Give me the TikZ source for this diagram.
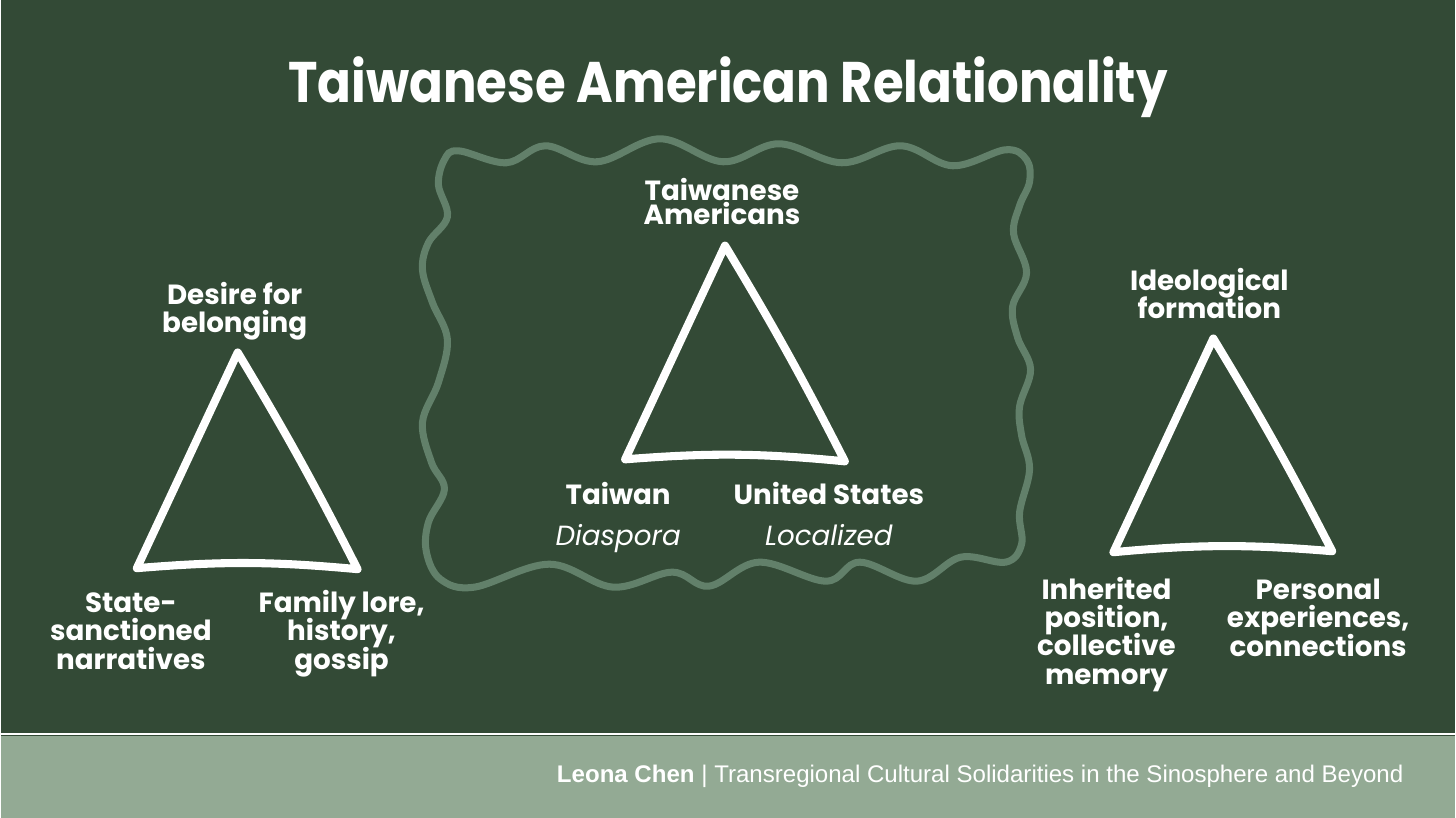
\documentclass[tikz,border=0pt]{standalone}
\usepackage{fontspec}
\usepackage{graphicx}
\setmainfont{Poppins}
\newfontfamily\footfont{Liberation Sans}
\usetikzlibrary{positioning}
\definecolor{slate}{HTML}{334A36}
\definecolor{sage}{HTML}{93AA94}
\definecolor{wavy}{HTML}{62806A}
\newcommand\tightlines{\lineskiplimit=-10pt\relax}
\tikzset{
  sketch/.style={
    line width = 2.3pt,
    draw = white,
    line cap = round,
    line join = round
  },
  corner/.style={
    text = white,
    font = \bfseries\fontsize{7.9}{8}\selectfont\tightlines,
    align = center,
    inner sep = 0pt,
    anchor = base
  },
  leaning/.style={
    text = white,
    font = \itshape\fontsize{7.9}{8}\selectfont,
    inner sep = 0pt,
    anchor = base
  },
}
\begin{document}
\begin{tikzpicture}[x=0.01cm, y=-0.01cm]
    % background and footer band
    \fill[slate] (0,0) rectangle (1456,819);
    \fill[sage] (0,737) rectangle (1456,819);
    \draw[white, line width=0.6pt] (0,735) -- (1456,735);
    \node[text=white, font=\bfseries\fontsize{16.3}{18}\selectfont, inner sep=0pt, anchor=base] (title) at (728,103) {\scalebox{0.87}[1]{Taiwanese American Relationality}};
    % wavy frame round the middle triangle
    \draw[wavy, line width=2pt] plot[smooth cycle, tension=0.6] coordinates {
      (458,151) (506,163) (545,146) (597,162) (660,139) (723,162) (779,144) (842,163)
      (901,146) (953,166) (1006,150) (1027,160) (1030,182) (1020,206) (1014,234) (1027,273)
      (1013,307) (1018,338) (1031,370) (1020,407) (1022,436) (1030,470) (1020,513) (1022,545)
      (1006,563) (961,558) (917,582) (860,563) (826,582) (759,563) (709,587) (672,573)
      (613,588) (549,565) (474,588) (440,580) (426,553) (428,523) (444,490) (431,463)
      (422,423) (438,383) (447,340) (432,303) (422,270) (428,243) (447,217) (438,185) (444,160)};
    % left triangle
    \coordinate (lt) at (237,353);
    \coordinate (lr) at (357,570);
    \coordinate (ll) at (136,569);
    \draw[sketch] (lt) to[bend left=2] (lr) to[bend right=5] (ll) -- cycle;
    \node[corner] (desire) at (234,333) {Desire for\\belonging};
    \node[corner] (state) at (130,670) {State-\\sanctioned\\narratives};
    \node[corner] (family) at (341,670) {Family lore,\\history,\\gossip};
    % middle triangle
    \coordinate (mt) at (725,246);
    \coordinate (mr) at (845,462);
    \coordinate (ml) at (625,460);
    \draw[sketch] (mt) to[bend left=2] (mr) to[bend right=5] (ml) -- cycle;
    \node[corner, font=\bfseries\fontsize{7.9}{6.8}\selectfont\tightlines] (taiam) at (722,225) {Taiwanese\\Americans};
    \node[corner] (taiwan) at (618,505) {Taiwan};
    \node[leaning] (diaspora) at (618,546) {Diaspora};
    \node[corner] (usa) at (829,505) {United States};
    \node[leaning] (localized) at (829,546) {Localized};
    % right triangle
    \coordinate (rt) at (1214,339);
    \coordinate (rr) at (1333,552);
    \coordinate (rl) at (1114,553);
    \draw[sketch] (rt) to[bend left=2] (rr) to[bend right=5] (rl) -- cycle;
    \node[corner] (ideo) at (1210,319) {Ideological\\formation};
    \node[corner] (inherit) at (1107,685) {Inherited\\position,\\collective\\memory};
    \node[corner] (personal) at (1319,657) {Personal\\experiences,\\connections};
    % credit line
    \node[text=white, font=\footfont\fontsize{6.85}{8}\selectfont, inner sep=0pt, anchor=base east] (credit) at (1405,784) {\textbf{Leona Chen} | Transregional Cultural Solidarities in the Sinosphere and Beyond};
\end{tikzpicture}
\end{document}
